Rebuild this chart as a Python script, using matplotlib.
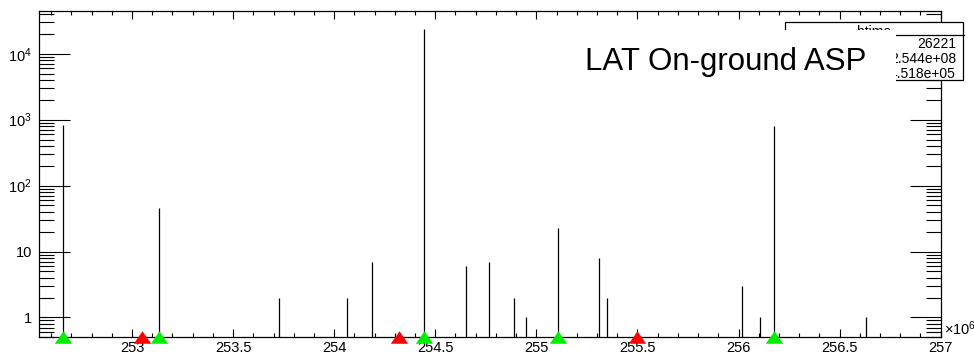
import numpy as np
import matplotlib
matplotlib.use('Agg')
from matplotlib import pyplot as plt
from matplotlib.patches import Rectangle
from matplotlib.ticker import FixedLocator, FixedFormatter, MultipleLocator

plt.rcParams['font.family'] = ['Liberation Sans', 'DejaVu Sans']
plt.rcParams['mathtext.fontset'] = 'custom'
plt.rcParams['mathtext.rm'] = 'Liberation Sans'
plt.rcParams['mathtext.it'] = 'Liberation Sans'

# bin positions (x1e6) and counts of the non-empty bins
peak_t = [252.658, 253.134, 253.728, 254.064, 254.188, 254.446, 254.653, 254.767,
          254.891, 254.950, 255.109, 255.312, 255.351, 256.015, 256.104, 256.173, 256.629]
peak_n = [840, 45, 2, 2, 7, 24000, 6, 7, 2, 1, 23, 8, 2, 3, 1, 800, 1]

# markers along the time axis
green_t = [252.658, 253.134, 254.446, 255.109, 256.173]
red_t = [253.05, 254.32, 255.498]

# stats box (left part hidden under the label)
stat_title = 'htime'
stat_vals = ['26221', '2.544e+08', '4.518e+05']

W, H = 974, 354
fig = plt.figure(figsize=(9.74, 3.54), dpi=100)
def px(x, y):
    return x / W, 1 - y / H

l, t = px(39, 10.7)
r, b = px(940.7, 337.3)
ax = fig.add_axes([l, b, r - l, t - b])

ymin, ymax = 0.5, 4.5e4
ax.set_yscale('log')
ax.vlines(peak_t, ymin, peak_n, colors='k', lw=0.9)
ax.set_xlim(252.54, 257.0)
ax.set_ylim(ymin, ymax)

tri = [(-1, -0.72), (1, -0.72), (0, 0.72)]
ax.plot(green_t, [ymin] * len(green_t), ls='none', marker=tri, ms=12.5,
        color='#00ee00', mec='none', clip_on=False, zorder=5)
ax.plot(red_t, [ymin] * len(red_t), ls='none', marker=tri, ms=12.5,
        color='#ff0000', mec='none', clip_on=False, zorder=5)

# x axis
xt = [253, 253.5, 254, 254.5, 255, 255.5, 256, 256.5, 257]
ax.xaxis.set_major_locator(FixedLocator(xt))
ax.xaxis.set_major_formatter(FixedFormatter(['253', '253.5', '254', '254.5', '255',
                                             '255.5', '256', '256.5', '257']))
ax.xaxis.set_minor_locator(MultipleLocator(0.1))
ax.tick_params(axis='x', which='major', direction='in', length=6, width=0.8,
               top=True, labelsize=10.5, pad=3)
ax.tick_params(axis='x', which='minor', direction='in', length=3, width=0.8, top=True)

# y axis
yt = [1, 10, 100, 1000, 10000]
ax.yaxis.set_major_locator(FixedLocator(yt))
ax.yaxis.set_major_formatter(FixedFormatter(['1', '10', r'$10^{2}$', r'$10^{3}$', r'$10^{4}$']))
ymin_t = [m * 10.0 ** e for e in range(-1, 5) for m in range(2, 10)]
ax.yaxis.set_minor_locator(FixedLocator(ymin_t))
ax.yaxis.set_minor_formatter(FixedFormatter([''] * len(ymin_t)))
ax.tick_params(axis='y', which='major', direction='in', length=22, width=0.8,
               right=True, labelsize=10.5, pad=5)
ax.tick_params(axis='y', which='minor', direction='in', length=11, width=0.8, right=True)
for s in ax.spines.values():
    s.set_linewidth(0.9)

fig.text(*px(944, 335), r'$\times10^{6}$', fontsize=10.5, ha='left', va='baseline')

# stats box
x0, y0 = px(785, 80)
x1, y1 = px(963.5, 22)
fig.patches.append(Rectangle((x0, y0), x1 - x0, y1 - y0, transform=fig.transFigure,
                             fc='white', ec='k', lw=0.9, zorder=10))
sy = px(0, 35)[1]
fig.add_artist(plt.Line2D([x0, x1], [sy, sy], transform=fig.transFigure, color='k',
                          lw=0.9, zorder=11))
fig.text((x0 + x1) / 2, px(0, 24.5)[1], stat_title, ha='center', va='top',
         fontsize=10, zorder=12)
for i, v in enumerate(stat_vals):
    yy = px(0, 44.5 + 14.5 * i)[1]
    fig.text(px(956, 0)[0], yy, v, ha='right', va='center', fontsize=10, zorder=12)

# label box on top
bx0, by0 = px(570, 87)
bx1, by1 = px(896, 30)
fig.patches.append(Rectangle((bx0, by0), bx1 - bx0, by1 - by0, transform=fig.transFigure,
                             fc='white', ec='none', zorder=20))
fig.text(*px(585, 70), 'LAT On-ground ASP', fontsize=22.5, ha='left', va='baseline', zorder=21)

fig.savefig('out.png', dpi=100)
